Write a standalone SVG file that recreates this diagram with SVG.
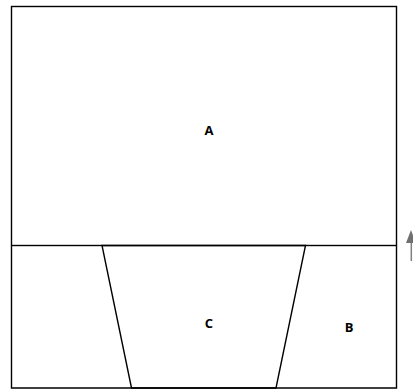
<svg xmlns="http://www.w3.org/2000/svg" width="413" height="390" viewBox="0 0 413 390">
<style>
.ln{stroke:#000;stroke-width:1.4;fill:none}
.lbl{font-family:"Open Sans","Liberation Sans",sans-serif;font-weight:bold;font-size:13px;fill:#000;text-anchor:middle}
</style>
<rect width="413" height="390" fill="#fff"/>
<g id="A">
<rect class="ln" x="11.5" y="6.5" width="385" height="239"/>
<text class="lbl" x="209" y="135">A</text>
</g>
<g id="C">
<polygon class="ln" points="102,245.5 305.5,245.5 276,388 131.5,388"/>
<text class="lbl" x="209" y="328">C</text>
</g>
<g id="B">
<path class="ln" d="M11.5,245.5 V388 H396.5 V245.5"/>
<text class="lbl" x="349" y="332">B</text>
</g>
<g id="connectors">
<line x1="411.3" y1="261" x2="411.3" y2="240" stroke="#808080" stroke-width="1.5"/>
<polygon points="411,230 406,243 416,243" fill="#707070"/>
</g>
</svg>
